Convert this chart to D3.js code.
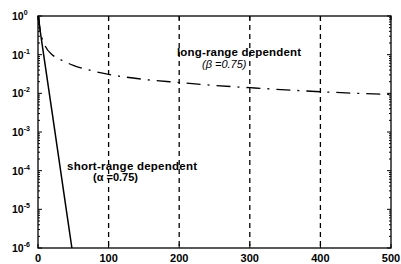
<!DOCTYPE html>
<html>
<head>
<meta charset="utf-8">
<script src="https://cdn.jsdelivr.net/npm/d3@7"></script>
<style>
  body { margin: 0; background: #fff; }
  text { font-family: "Liberation Sans", Arial, sans-serif; }
</style>
</head>
<body>
<div id="vis"></div>
<script>
// Frame size
const FRAME_WIDTH = 401;
const FRAME_HEIGHT = 264;
const MARGINS = {left: 38, right: 10, top: 16, bottom: 16};

const VIS_WIDTH = 391 - MARGINS.left;
const VIS_HEIGHT = 248 - MARGINS.top;

// Data
const X_TICKS = [0, 100, 200, 300, 400, 500];
const Y_TICKS = [1, 1e-1, 1e-2, 1e-3, 1e-4, 1e-5, 1e-6];
const GRID_X = [100, 200, 300, 400];

// long-range dependent (beta = 0.75)
const LONG_K = [1, 3, 5, 10, 20, 30, 50, 75, 100, 150, 200, 250, 300, 400, 500];
const LONG_R = [0.95, 0.45, 0.3, 0.17, 0.1, 0.078, 0.053, 0.039, 0.031, 0.023, 0.019, 0.016, 0.014, 0.011, 0.0093];

// short-range dependent (alpha = 0.75)
const SHORT_K = [0, 10, 20, 30, 40, 48];
const SHORT_R = [1, 0.056, 0.0032, 0.00018, 0.00001, 0.000001];

const FRAME = d3.select("#vis")
                .append("svg")
                .attr("width", FRAME_WIDTH)
                .attr("height", FRAME_HEIGHT);

const PLOT = FRAME.append("g")
                  .attr("transform", "translate(" + MARGINS.left + "," + MARGINS.top + ")");

const X_SCALE = d3.scaleLinear()
                  .domain([0, 500])
                  .range([0, VIS_WIDTH]);

const Y_SCALE = d3.scaleLog()
                  .domain([1e-6, 1])
                  .range([VIS_HEIGHT, 0]);

// vertical dashed grid
PLOT.append("g").selectAll("line")
    .data(GRID_X)
    .enter()
    .append("line")
      .attr("x1", (d) => X_SCALE(d))
      .attr("x2", (d) => X_SCALE(d))
      .attr("y1", 0)
      .attr("y2", VIS_HEIGHT)
      .attr("stroke", "#000")
      .attr("stroke-width", 1.3)
      .attr("stroke-dasharray", "5,4");

// minor log ticks on left and right sides
let minor = [];
for (let e = -6; e < 0; e++) {
  for (let m = 2; m <= 9; m++) minor.push(m * Math.pow(10, e));
}
[0, VIS_WIDTH].forEach((xx, i) => {
  const dir = i == 0 ? 1 : -1;
  PLOT.append("g").selectAll("line")
      .data(minor)
      .enter()
      .append("line")
        .attr("x1", xx)
        .attr("x2", xx + dir * 2)
        .attr("y1", (d) => Y_SCALE(d))
        .attr("y2", (d) => Y_SCALE(d))
        .attr("stroke", "#000");
  PLOT.append("g").selectAll("line")
      .data(Y_TICKS)
      .enter()
      .append("line")
        .attr("x1", xx)
        .attr("x2", xx + dir * 4)
        .attr("y1", (d) => Y_SCALE(d))
        .attr("y2", (d) => Y_SCALE(d))
        .attr("stroke", "#000");
});

// x ticks inward, bottom and top
[VIS_HEIGHT, 0].forEach((yy, i) => {
  const dir = i == 0 ? -1 : 1;
  PLOT.append("g").selectAll("line")
      .data(X_TICKS)
      .enter()
      .append("line")
        .attr("x1", (d) => X_SCALE(d))
        .attr("x2", (d) => X_SCALE(d))
        .attr("y1", yy)
        .attr("y2", yy + dir * 4)
        .attr("stroke", "#000");
});

// box
PLOT.append("rect")
    .attr("x", 0)
    .attr("y", 0)
    .attr("width", VIS_WIDTH)
    .attr("height", VIS_HEIGHT)
    .attr("fill", "none")
    .attr("stroke", "#000")
    .attr("stroke-width", 1.3);

// x tick labels
PLOT.append("g").selectAll("text")
    .data(X_TICKS)
    .enter()
    .append("text")
      .attr("x", (d) => X_SCALE(d))
      .attr("y", VIS_HEIGHT + 14)
      .attr("text-anchor", "middle")
      .attr("font-size", "11px")
      .attr("font-weight", "bold")
      .text((d) => d);

// y tick labels 10^n
let yLab = PLOT.append("g").selectAll("text")
    .data(Y_TICKS)
    .enter()
    .append("text")
      .attr("x", -26)
      .attr("y", (d) => Y_SCALE(d) + 4)
      .attr("font-size", "10.5px")
      .attr("font-weight", "bold");
yLab.append("tspan").text("10");
yLab.append("tspan")
    .attr("dy", -5)
    .attr("font-size", "7px")
    .text((d) => Math.round(Math.log10(d)) == 0 ? "0" : "-" + Math.abs(Math.round(Math.log10(d))));

// lines
const longData = LONG_K.map((k, i) => [k, LONG_R[i]]);
const shortData = SHORT_K.map((k, i) => [k, SHORT_R[i]]);

const lineGen = d3.line()
                  .x((d) => X_SCALE(d[0]))
                  .y((d) => Y_SCALE(d[1]))
                  .curve(d3.curveMonotoneX);

PLOT.append("path")
    .datum(longData)
    .attr("d", lineGen)
    .attr("fill", "none")
    .attr("stroke", "#000")
    .attr("stroke-width", 1.3)
    .attr("stroke-dasharray", "14,7,2,7");

PLOT.append("path")
    .datum(shortData)
    .attr("d", d3.line().x((d) => X_SCALE(d[0])).y((d) => Y_SCALE(d[1])))
    .attr("fill", "none")
    .attr("stroke", "#000")
    .attr("stroke-width", 1.5);

// annotations
FRAME.append("text")
     .attr("x", 177).attr("y", 56)
     .attr("font-size", "11.5px").attr("font-weight", "bold")
     .attr("textLength", 124)
     .text("long-range dependent");
FRAME.append("text")
     .attr("x", 202).attr("y", 68)
     .attr("font-size", "11px").attr("font-style", "italic")
     .text("(β =0.75)");
FRAME.append("text")
     .attr("x", 67).attr("y", 170)
     .attr("font-size", "11.5px").attr("font-weight", "bold")
     .attr("textLength", 130)
     .text("short-range dependent");
FRAME.append("text")
     .attr("x", 93).attr("y", 181)
     .attr("font-size", "11px").attr("font-weight", "bold")
     .text("(α =0.75)");
</script>
</body>
</html>
